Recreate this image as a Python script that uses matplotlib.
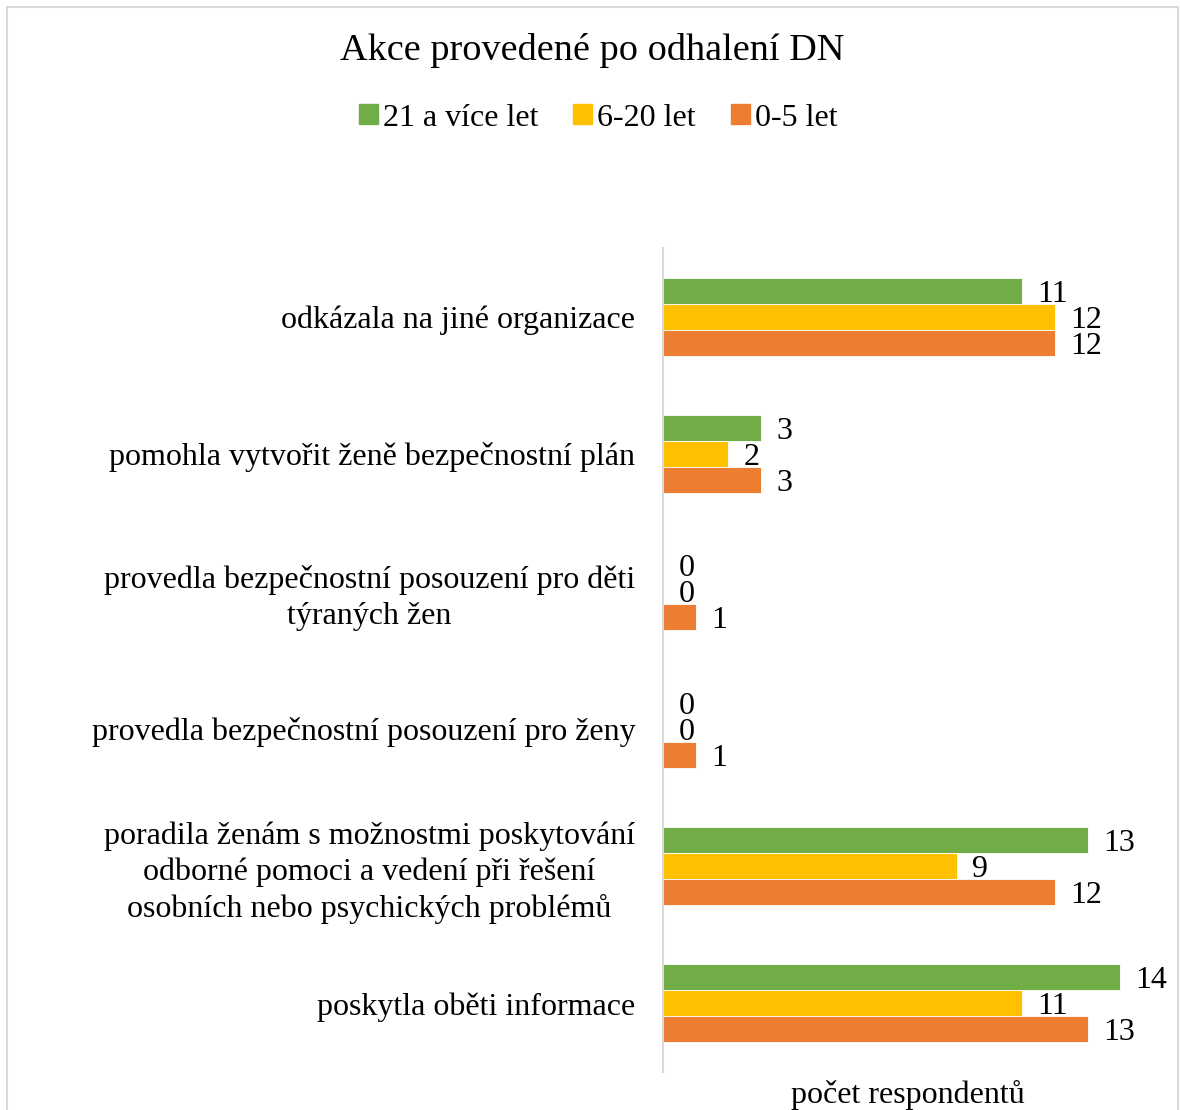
import matplotlib.pyplot as plt
import numpy as np
from matplotlib.patches import Rectangle, Patch

plt.rcParams['font.family'] = ['Liberation Serif', 'DejaVu Serif']

# categories, top to bottom
kategorie = ['odkázala na jiné organizace',
             'pomohla vytvořit ženě bezpečnostní plán',
             'provedla bezpečnostní posouzení pro děti\ntýraných žen',
             'provedla bezpečnostní posouzení pro ženy',
             'poradila ženám s možnostmi poskytování\nodborné pomoci a vedení při řešení\nosobních nebo psychických problémů',
             'poskytla oběti informace']
serie = ['21 a více let', '6-20 let', '0-5 let']
let_21 = [11, 3, 0, 0, 13, 14]
let_6_20 = [12, 2, 0, 0, 9, 11]
let_0_5 = [12, 3, 1, 1, 12, 13]
barvy = ['#70AD47', '#FFC000', '#ED7D31']

W, H = 1180, 1110
fig = plt.figure(figsize=(W/100, H/100), dpi=100)
ax = fig.add_axes([663/W, 1-1072/H, (1153-663)/W, (1072-248)/H])

y = np.arange(len(kategorie))
h = 0.19
for i, (vals, c) in enumerate(zip([let_21, let_6_20, let_0_5], barvy)):
    pos = y + (i-1)*h
    ax.barh(pos, vals, height=h, color=c, edgecolor='white', linewidth=0.6)
    for p, v in zip(pos, vals):
        ax.annotate(str(v), (v, p), xytext=(11, -2.5), textcoords='offset points',
                    ha='left', va='center', fontsize=23, color='black')

ax.set_xlim(0, 15)
ax.set_ylim(len(kategorie)-0.5, -0.5)
ax.set_yticks(y)
ax.set_yticklabels(kategorie, fontsize=23, multialignment='center', linespacing=1.3)
ax.tick_params(axis='y', length=0, pad=20)
ax.set_xticks([])
for s in ['top', 'right', 'bottom']:
    ax.spines[s].set_visible(False)
ax.spines['left'].set_color('#D9D9D9')
ax.spines['left'].set_linewidth(1.5)
ax.set_xlabel('počet respondentů', fontsize=23, labelpad=6)

fig.text(592/W, 1-51/H, 'Akce provedené po odhalení DN', ha='center', va='center', fontsize=27.5)
handles = [Patch(color=c) for c in barvy]
fig.legend(handles, serie, loc='center', bbox_to_anchor=(598/W, 1-118/H), ncol=3,
           frameon=False, fontsize=23, handlelength=0.6, handleheight=0.6,
           handletextpad=0.15, columnspacing=1.1)

fig.patches.append(Rectangle((7/W, -0.01), (1178-7)/W, 1-7/H+0.01, transform=fig.transFigure,
                             fill=False, edgecolor='#D9D9D9', linewidth=1.5))

fig.savefig('out.png', dpi=100)
